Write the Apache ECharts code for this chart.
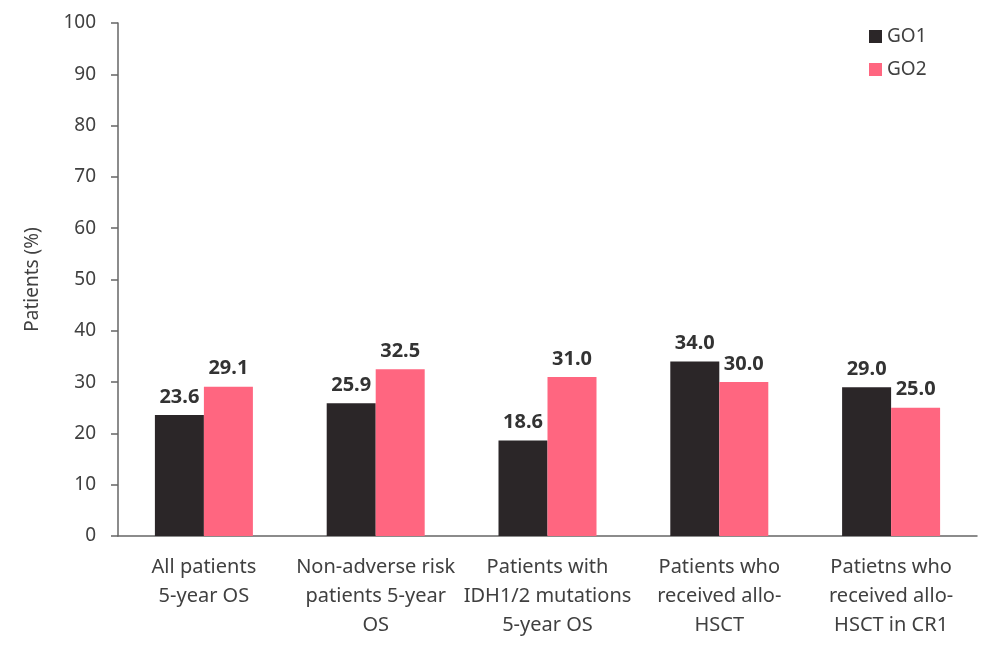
<!DOCTYPE html>
<html>
<head>
<meta charset="utf-8">
<script src="https://cdn.jsdelivr.net/npm/echarts@6/dist/echarts.min.js"></script>
<style>html,body{margin:0;padding:0;background:#fff}#c{width:1000px;height:655px}</style>
</head>
<body>
<div id="c"></div>
<script>
const categories = [
  "All patients\n5-year OS",
  "Non-adverse risk\npatients 5-year\nOS",
  "Patients with\nIDH1/2 mutations\n5-year OS",
  "Patients who\nreceived allo-\nHSCT",
  "Patietns who\nreceived allo-\nHSCT in CR1"
];
const go1 = [23.6, 25.9, 18.6, 34.0, 29.0];
const go2 = [29.1, 32.5, 31.0, 30.0, 25.0];
const seriesNames = ["GO1", "GO2"];
const yTicks = { min: 0, max: 100, interval: 10 };

const FONT = "Noto Sans";
const chart = echarts.init(document.getElementById('c'), null, { renderer: 'canvas' });
const labelStyle = {
  show: true, position: 'top', distance: 8,
  formatter: p => p.value.toFixed(1),
  fontFamily: FONT, fontWeight: 'bold', fontSize: 20, color: '#333333'
};
chart.setOption({
  animation: false,
  textStyle: { fontFamily: FONT },
  grid: { left: 118, right: 23, top: 23, bottom: 119, containLabel: false },
  legend: {
    orient: 'vertical', left: 864, top: 22, itemGap: 14,
    itemWidth: 13, itemHeight: 13, icon: 'rect',
    textStyle: { fontFamily: FONT, fontSize: 19, color: '#404040' },
    data: seriesNames
  },
  xAxis: {
    type: 'category', data: categories,
    axisLine: { lineStyle: { color: '#666666', width: 1.5 } },
    axisTick: { alignWithLabel: true, length: 6, lineStyle: { color: '#666666', width: 1.5 } },
    axisLabel: { fontFamily: FONT, fontSize: 20, color: '#404040', lineHeight: 29, margin: 17, interval: 0 }
  },
  yAxis: {
    type: 'value', min: yTicks.min, max: yTicks.max, interval: yTicks.interval,
    name: 'Patients (%)', nameLocation: 'middle', nameGap: 76, nameRotate: 90,
    nameTextStyle: { fontFamily: FONT, fontSize: 19, color: '#404040' },
    axisLine: { show: true, lineStyle: { color: '#666666', width: 1.5 } },
    axisTick: { show: true, length: 7, lineStyle: { color: '#666666', width: 1.5 } },
    axisLabel: { fontFamily: FONT, fontSize: 19, color: '#404040', margin: 22 },
    splitLine: { show: false }
  },
  series: [
    { name: seriesNames[0], type: 'bar', data: go1, barWidth: 49, barGap: '0%',
      itemStyle: { color: '#2b2628' }, label: labelStyle },
    { name: seriesNames[1], type: 'bar', data: go2, barWidth: 49, barGap: '0%',
      itemStyle: { color: '#ff6680' }, label: labelStyle }
  ]
});
</script>
</body>
</html>
